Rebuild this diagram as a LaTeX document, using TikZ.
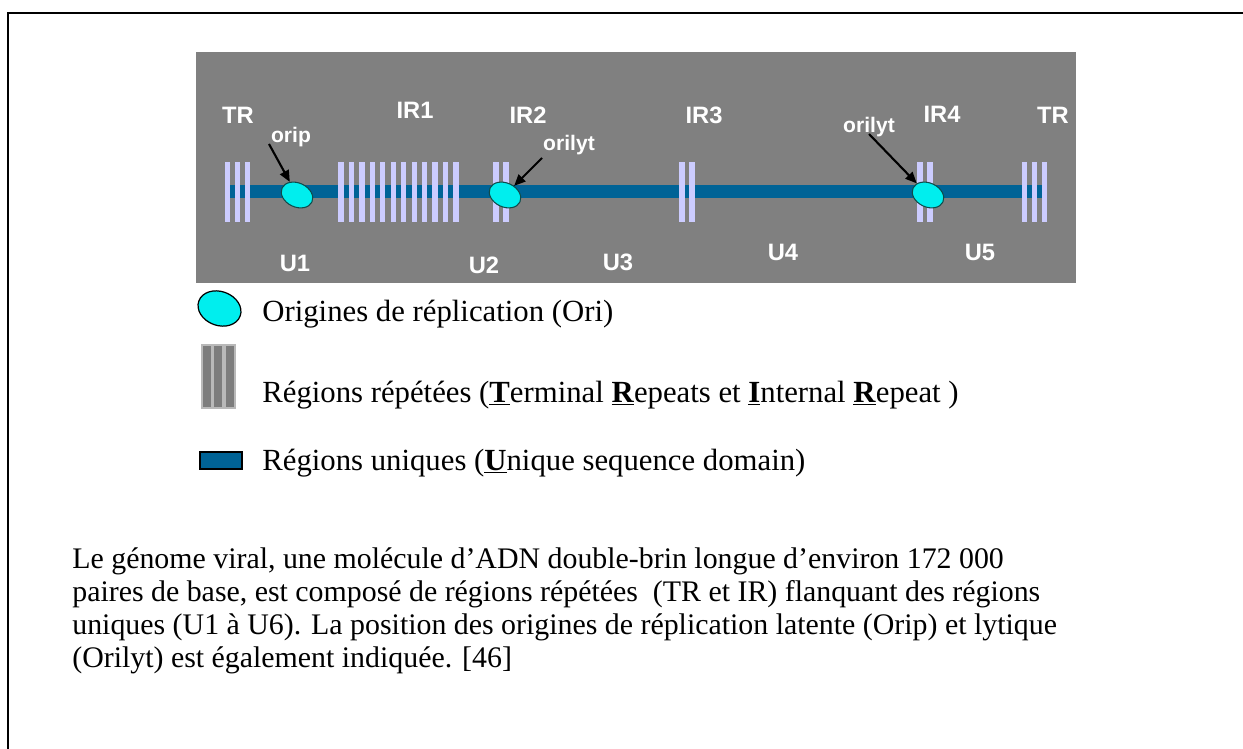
\documentclass[tikz,border=0pt]{standalone}
\usepackage{fontspec}
\setmainfont{Liberation Serif}
\newfontfamily\arialfont{Liberation Sans}
\usetikzlibrary{arrows.meta, shapes.geometric}

\definecolor{panelgray}{RGB}{128,128,128}
\definecolor{dnablue}{RGB}{0,99,150}
\definecolor{repeatlilac}{RGB}{204,204,255}
\definecolor{oricyan}{RGB}{0,238,238}
\definecolor{oriedge}{RGB}{15,75,75}
\definecolor{legendgray}{RGB}{125,125,125}

\begin{document}
\begin{tikzpicture}[x=0.02cm, y=-0.02cm,
    region/.style={font=\arialfont\bfseries\fontsize{13.5}{15}\selectfont, text=white},
    orilabel/.style={font=\arialfont\bfseries\fontsize{12}{14}\selectfont, text=white},
    ori/.style={ellipse, draw=oriedge, fill=oricyan, line width=0.6pt,
        minimum width=0.66cm, minimum height=0.48cm, inner sep=0pt, rotate=-25},
    oriarrow/.style={line width=1.2pt, -{Triangle[length=6.5pt, width=5.5pt]}},
    legendtext/.style={anchor=base west, inner sep=0pt, font=\fontsize{17.5}{20}\selectfont},
    bodytext/.style={anchor=base west, inner sep=0pt, font=\fontsize{17}{19.5}\selectfont}]

    \useasboundingbox (0,0) rectangle (1243,749);

    \def\bartop{162}
    \def\barbot{222}
    \def\barw{2.6}

    % --- Frame ---
    \draw[line width=1.3pt] (8,749) -- (8,13) -- (1243,13);

    % --- Genome panel ---
    \fill[panelgray] (196,52) rectangle (1076,283);
    % unique sequence line
    \fill[dnablue] (228,185) rectangle (1043,198);
    % repeats (TR, IR2, IR3, IR4, TR)
    \foreach \x in {227.5,237.5,247.5, 496,506, 682,692, 920,930, 1024.5,1034.5,1044.5}
        \fill[repeatlilac] (\x-\barw,\bartop) rectangle (\x+\barw,\barbot);
    % IR1
    \foreach \i in {0,...,11}
        \fill[repeatlilac] ({341+10.45*\i-\barw},\bartop) rectangle ({341+10.45*\i+\barw},\barbot);

    % origins
    \node[ori] (oriP) at (297,195) {};
    \node[ori] (oriLytA) at (505,195) {};
    \node[ori] (oriLytB) at (928,195) {};

    % --- Region labels ---
    \node[region] (trLeft) at (238,115) {TR};
    \node[region] (irOne) at (415,110) {IR1};
    \node[region] (irTwo) at (528,115) {IR2};
    \node[region] (irThree) at (704,115) {IR3};
    \node[region] (irFour) at (942,114) {IR4};
    \node[region] (trRight) at (1053,115) {TR};

    \node[region] (uOne) at (295,263) {U1};
    \node[region] (uTwo) at (484,265) {U2};
    \node[region] (uThree) at (618,262) {U3};
    \node[region] (uFour) at (783,252) {U4};
    \node[region] (uFive) at (980,252) {U5};

    % --- Origin labels and arrows ---
    \node[orilabel] (oripLbl) at (291,137) {orip};
    \node[orilabel] (orilytLblA) at (569,145) {orilyt};
    \node[orilabel] (orilytLblB) at (869,127) {orilyt};

    \coordinate (oripTail) at (269,144);
    \coordinate (orilytTailA) at (542,158);
    \coordinate (orilytTailB) at (869,134);
    \draw[oriarrow] (oripTail) -- (oriP);
    \draw[oriarrow] (orilytTailA) -- (oriLytA);
    \draw[oriarrow] (orilytTailB) -- (oriLytB);

    % --- Legend ---
    \node[ellipse, draw=black, fill=oricyan, line width=0.7pt, minimum width=0.88cm,
        minimum height=0.68cm, inner sep=0pt, rotate=-20] (keyOri) at (219.5,308.5) {};
    \foreach \a/\b in {202/212, 213/223, 225/235}
        \fill[legendgray, draw=gray!55, line width=0.6pt] (\a,345) rectangle (\b,408);
    \fill[dnablue, draw=black, line width=0.6pt] (200,452) rectangle (242,469);

    \node[legendtext] (keyOriTxt) at (262,322) {Origines de réplication (Ori)};
    \node[legendtext] (keyRepTxt) at (262,402) {Régions répétées (\underline{\textbf{T}}erminal
        \underline{\textbf{R}}epeats et \underline{\textbf{I}}nternal \underline{\textbf{R}}epeat )};
    \node[legendtext] (keyUniTxt) at (262,470) {Régions uniques (\underline{\textbf{U}}nique sequence domain)};

    % --- Caption ---
    \node[bodytext] (capOne) at (72,568) {Le génome viral, une molécule d’ADN double-brin longue d’environ 172 000};
    \node[bodytext] (capTwo) at (72,601) {paires de base, est composé de régions répétées \ (TR et IR) flanquant des régions};
    \node[bodytext] (capThree) at (72,634) {uniques (U1 à U6). La position des origines de réplication latente (Orip) et lytique};
    \node[bodytext] (capFour) at (72,667) {(Orilyt) est également indiquée. [46]};

\end{tikzpicture}
\end{document}
